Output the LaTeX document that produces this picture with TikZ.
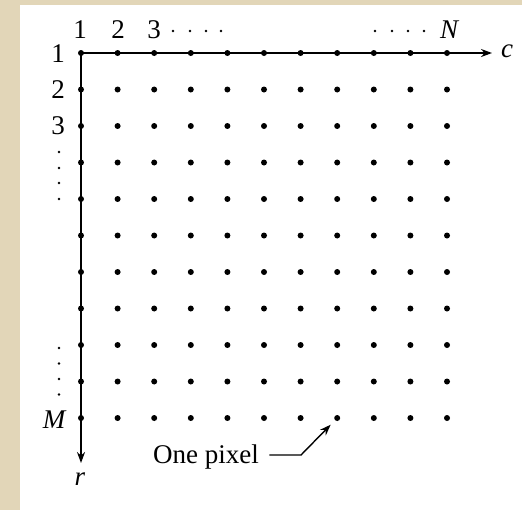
\documentclass[tikz,border=0pt]{standalone}
\usepackage{fontspec}
\setmainfont{Liberation Serif}
\usetikzlibrary{arrows.meta}
\definecolor{paper}{RGB}{226,214,184}

\begin{document}
\begin{tikzpicture}[
    x=0.5pt, y=-0.5pt,
    pix/.style={circle, fill=black, inner sep=0pt, minimum size=3pt},
    lbl/.style={inner sep=0pt, font=\fontsize{13.5}{15}\selectfont},
    ax/.style={-{Stealth[length=5.5pt,width=4pt]}, line width=1pt},
    lead/.style={-{Stealth[length=5.5pt,width=4pt]}, line width=0.7pt, shorten >=3pt}
]
% page and panel
\fill[paper] (0,0) rectangle (522,510);
\fill[white] (20,5) rectangle (522,510);
\useasboundingbox (0,0) rectangle (522,510);

% the pixel grid
\foreach \r in {1,...,11}
  \foreach \c in {1,...,11}
    \node[pix] (p\r-\c) at ({81+36.6*(\c-1)},{53+36.5*(\r-1)}) {};

% axes
\coordinate (cend) at (492,53);
\coordinate (rend) at (81,463);
\draw[ax] (p1-1.center) -- (cend);
\draw[ax] (p1-1.center) -- (rend);
\node[lbl] (clab) at (507,51) {\itshape c};
\node[lbl] (rlab) at (80,479) {\itshape r};

% column numbers
\node[lbl] (col1) at (80,30) {1};
\node[lbl] (col2) at (118,30) {2};
\node[lbl] (col3) at (154,30) {3};
\node[lbl] (colN) at (449,30) {\itshape N};
\foreach \x in {173,190,206,221,375,392,408,424}
  \fill (\x,31) circle (1.3);

% row numbers
\node[lbl] (row1) at (58,54) {1};
\node[lbl] (row2) at (58,90) {2};
\node[lbl] (row3) at (58,126) {3};
\node[lbl] (rowM) at (54,420) {\itshape M};
\foreach \y in {152,168,183,199,348,363.5,379,394.5}
  \fill (59,\y) circle (1.3);

% one pixel
\node[lbl] (onepix) at (206,457) {One pixel};
\coordinate (bend) at (301,455);
\draw[lead] ([xshift=5pt]onepix.east |- bend) -- (bend) -- (p11-8);
\end{tikzpicture}
\end{document}
